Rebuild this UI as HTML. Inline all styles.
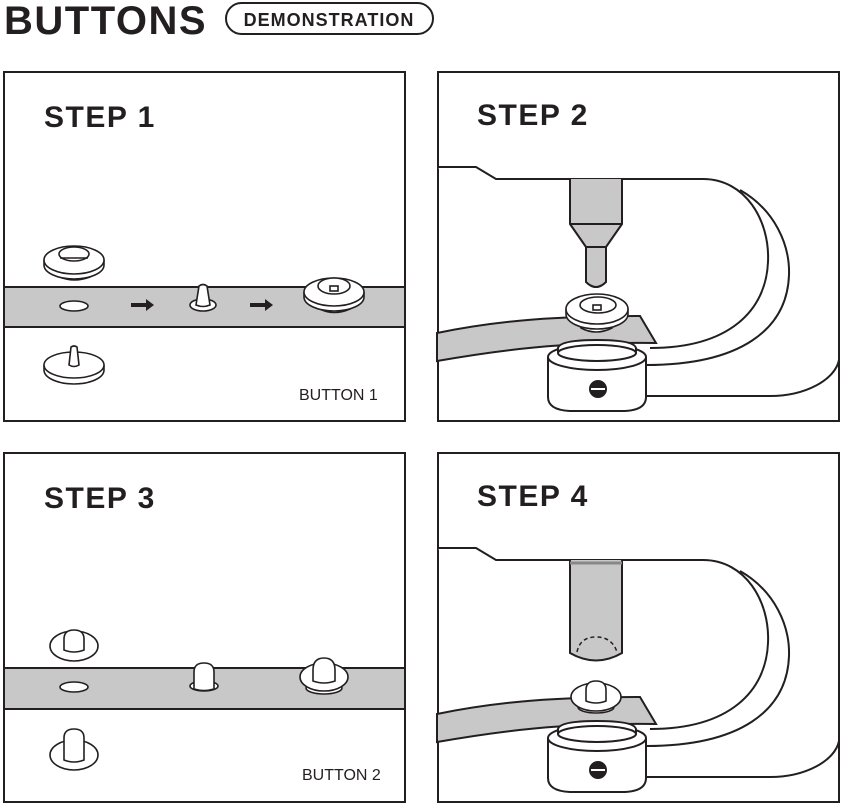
<!DOCTYPE html>
<html><head><style>
html,body{margin:0;padding:0;background:#fff;}
svg{display:block;}
text{font-family:"Liberation Sans",sans-serif;fill:#231f20;}
</style></head><body>
<svg width="843" height="805" viewBox="0 0 843 805" xmlns="http://www.w3.org/2000/svg">
<defs>
<g id="tool" fill="none" stroke="#231f20" stroke-width="2">
  <path d="M437 167 H476 L496 179 H703 C745 179 770 220 768 262 C766 310 730 348 650 348" fill="#fff"/>
  <path d="M740 190 C775 210 790 245 789 275 C787 330 740 365 646 365"/>
  <path d="M646 396 H770 C805 396 835 380 839 360"/>
</g>
<g id="anvil" stroke="#231f20" stroke-width="2" fill="#fff">
  <path d="M548 357 V397 Q548 410 570 411 H625 Q646 410 646 397 V357"/>
  <ellipse cx="597" cy="357" rx="49" ry="13"/>
  <path d="M558 353 V348 Q560 340 597 340 Q634 340 636 348 V353" />
  <ellipse cx="597" cy="353" rx="39" ry="8"/>
  <circle cx="598" cy="389" r="8" fill="#231f20"/>
  <line x1="591" y1="389" x2="605" y2="389" stroke="#fff" stroke-width="2"/>
</g>
<path id="strip" d="M437 333 C500 320 560 316 640 316 L656 343 C560 342 500 350 437 361 Z" fill="#c8c8c8" stroke="#231f20" stroke-width="2"/>
</defs>

<text x="4" y="34" font-size="40" font-weight="bold" letter-spacing="1.5">BUTTONS</text>
<rect x="226" y="3" width="207" height="31" rx="15.5" fill="none" stroke="#231f20" stroke-width="2"/>
<text x="329" y="26" font-size="18" font-weight="bold" text-anchor="middle" letter-spacing="1">DEMONSTRATION</text>

<g fill="none" stroke="#231f20" stroke-width="2">
<rect x="4" y="72" width="401" height="349"/>
<rect x="438" y="72" width="401" height="349"/>
<rect x="4" y="453" width="401" height="349"/>
<rect x="438" y="453" width="401" height="349"/>
</g>
<g font-size="30" font-weight="bold" letter-spacing="1.5">
<text x="44" y="127">STEP 1</text>
<text x="477" y="125">STEP 2</text>
<text x="44" y="508">STEP 3</text>
<text x="477" y="506">STEP 4</text>
</g>
<text x="299" y="400" font-size="16">BUTTON 1</text>
<text x="302" y="780" font-size="16">BUTTON 2</text>

<!-- STEP 1 -->
<rect x="4" y="287" width="401" height="40" fill="#c8c8c8" stroke="#231f20" stroke-width="2"/>
<g stroke="#231f20" stroke-width="1.6" fill="#fff">
  <path d="M60 270 V277 Q74 283 90 277 V270"/>
  <path d="M44 260 v5 a30 14 0 0 0 60 0 v-5"/>
  <ellipse cx="74" cy="260" rx="30" ry="14"/>
  <ellipse cx="74" cy="254" rx="15" ry="7"/>
  <line x1="60" y1="258" x2="88" y2="258"/>
  <ellipse cx="74" cy="306" rx="14" ry="5"/>
  <path d="M44 365 v5 a30 14 0 0 0 60 0 v-5"/>
  <ellipse cx="74" cy="365" rx="30" ry="13"/>
  <path d="M69 365 L71 347 Q74 345 77 347 L79 365 Q74 368 69 365Z"/>
  <ellipse cx="203" cy="305" rx="13" ry="6"/>
  <path d="M196 305 L199 286 Q203 283 207 286 L210 305 Q203 308 196 305Z"/>
  <path d="M320 302 V309 Q334 316 350 309 V302"/>
  <path d="M304 292 v5 a30 14 0 0 0 60 0 v-5"/>
  <ellipse cx="334" cy="292" rx="30" ry="14"/>
  <ellipse cx="334" cy="286" rx="16" ry="8"/>
  <rect x="330" y="286" width="8" height="5"/>
</g>
<g fill="#231f20">
  <path d="M131 303 h15 v-4 l8 6 l-8 6 v-4 h-15z"/>
  <path d="M250 303 h15 v-4 l8 6 l-8 6 v-4 h-15z"/>
  <path d="M131 685 h15 v-4 l8 6 l-8 6 v-4 h-15z"/>
  <path d="M250 685 h15 v-4 l8 6 l-8 6 v-4 h-15z"/>
</g>

<!-- STEP 3 -->
<rect x="4" y="668" width="401" height="41" fill="#c8c8c8" stroke="#231f20" stroke-width="2"/>
<g stroke="#231f20" stroke-width="1.6" fill="#fff">
  <ellipse cx="74" cy="646" rx="24" ry="15"/>
  <path d="M64 650 V639 Q64 630 74 630 Q84 630 84 639 V650 Q74 654 64 650Z"/>
  <ellipse cx="74" cy="687" rx="14" ry="5"/>
  <ellipse cx="74" cy="755" rx="24" ry="15"/>
  <path d="M64 760 V738 Q64 729 74 729 Q84 729 84 738 V760 Q74 764 64 760Z"/>
  <ellipse cx="204" cy="686" rx="14" ry="5"/>
  <path d="M194 689 V672 Q194 663 204 663 Q214 663 214 672 V689 Q204 692 194 689Z"/>
  <ellipse cx="324" cy="688" rx="18" ry="6"/>
  <ellipse cx="324" cy="677" rx="24" ry="14"/>
  <path d="M313 681 V670 Q313 658 324 658 Q335 658 335 670 V681 Q324 685 313 681Z"/>
</g>

<!-- STEP 2 -->
<use href="#tool"/>
<g stroke="#231f20" stroke-width="2" fill="#c8c8c8">
  <path d="M570 179 V224 L586 247 V282 Q596 292 606 282 V247 L622 224 V179"/>
  <line x1="570" y1="224" x2="622" y2="224"/>
  <line x1="586" y1="247" x2="606" y2="247"/>
</g>
<use href="#strip"/>
<g stroke="#231f20" stroke-width="1.6" fill="#fff">
  <path d="M581 320 V328 Q596 336 612 328 V320"/>
  <path d="M566 309 v5 a31 15 0 0 0 62 0 v-5"/>
  <ellipse cx="597" cy="309" rx="31" ry="15"/>
  <ellipse cx="598" cy="305" rx="18" ry="8"/>
  <rect x="593" y="305" width="8" height="5"/>
</g>
<use href="#anvil"/>

<!-- STEP 4 -->
<use href="#tool" transform="translate(0,381)"/>
<g stroke="#231f20" stroke-width="2" fill="#c8c8c8">
  <path d="M570 560 V653 Q596 668 622 653 V560"/>
  <line x1="570" y1="563" x2="622" y2="563" stroke="#888" stroke-width="3"/>
  <path d="M577 652 Q580 637 596 637 Q612 637 617 652" fill="none" stroke-dasharray="4 3" stroke-width="1.5"/>
</g>
<use href="#strip" transform="translate(0,381)"/>
<g stroke="#231f20" stroke-width="1.6" fill="#fff">
  <ellipse cx="596" cy="707" rx="18" ry="6"/>
  <ellipse cx="596" cy="697" rx="25" ry="14"/>
  <path d="M586 701 V690 Q586 681 596 681 Q606 681 606 690 V701 Q596 705 586 701Z"/>
</g>
<use href="#anvil" transform="translate(0,381)"/>
</svg>
</body></html>
